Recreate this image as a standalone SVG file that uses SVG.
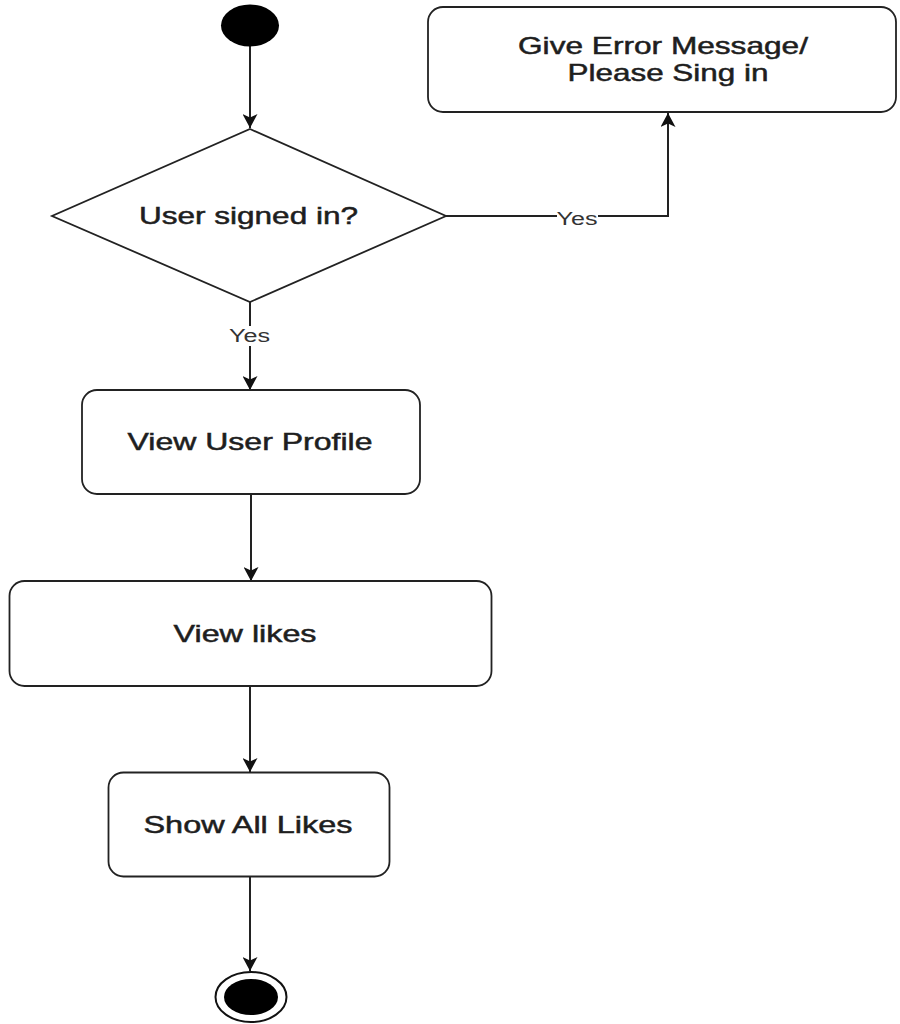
<svg xmlns="http://www.w3.org/2000/svg" width="900" height="1024" viewBox="0 0 900 1024">
<style>
.box{fill:#fff;stroke:#222;stroke-width:1.8}
.lbl{font-family:"Liberation Sans",Arial,sans-serif;font-size:24px;fill:#1e1e1e;text-anchor:middle;stroke:#1e1e1e;stroke-width:0.5}
.yes{font-family:"Liberation Sans",Arial,sans-serif;font-size:17.5px;fill:#333;text-anchor:middle}
.edge{fill:none;stroke:#222;stroke-width:2}
</style>
<defs>
<marker id="arr" markerUnits="userSpaceOnUse" markerWidth="15" markerHeight="15" refX="14" refY="7.5" orient="auto" viewBox="0 0 15 15">
<path d="M0,0 L14,7.5 L0,15 L3.5,7.5 Z" fill="#111"/>
</marker>
</defs>
<rect width="900" height="1024" fill="#fff"/>
<g id="edges">
<line class="edge" x1="250" y1="46" x2="250" y2="128" marker-end="url(#arr)"/>
<path class="edge" d="M446,216 H668 V113" marker-end="url(#arr)"/>
<line class="edge" x1="250" y1="302" x2="250" y2="390" marker-end="url(#arr)"/>
<line class="edge" x1="251" y1="494" x2="251" y2="581" marker-end="url(#arr)"/>
<line class="edge" x1="250" y1="686" x2="250" y2="772" marker-end="url(#arr)"/>
<line class="edge" x1="250" y1="877" x2="250" y2="971" marker-end="url(#arr)"/>
<g id="label-yes-right">
<rect x="557" y="212" width="41" height="16" fill="#fff"/>
<text class="yes" x="577" y="225" textLength="41" lengthAdjust="spacingAndGlyphs">Yes</text>
</g>
<g id="label-yes-down">
<rect x="229" y="326" width="42" height="20" fill="#fff"/>
<text class="yes" x="249.5" y="342" textLength="41" lengthAdjust="spacingAndGlyphs">Yes</text>
</g>
</g>
<g id="start">
<ellipse cx="250" cy="25.5" rx="29" ry="21" fill="#000"/>
</g>
<g id="error">
<rect class="box" x="428" y="7" width="468" height="105" rx="15"/>
<text class="lbl" x="663" y="54" textLength="290" lengthAdjust="spacingAndGlyphs">Give Error Message/</text>
<text class="lbl" x="668" y="81" textLength="201" lengthAdjust="spacingAndGlyphs">Please Sing in</text>
</g>
<g id="decision">
<polygon class="box" points="250,129 446,216 250,302 52,216"/>
<text class="lbl" x="248.5" y="224" textLength="219" lengthAdjust="spacingAndGlyphs">User signed in?</text>
</g>
<g id="viewProfile">
<rect class="box" x="82" y="390" width="338" height="104" rx="15"/>
<text class="lbl" x="250" y="450" textLength="245" lengthAdjust="spacingAndGlyphs">View User Profile</text>
</g>
<g id="viewLikes">
<rect class="box" x="9.5" y="581" width="482" height="105" rx="15"/>
<text class="lbl" x="245" y="642" textLength="143" lengthAdjust="spacingAndGlyphs">View likes</text>
</g>
<g id="showAll">
<rect class="box" x="108.5" y="772.5" width="281" height="104" rx="15"/>
<text class="lbl" x="248" y="833" textLength="209" lengthAdjust="spacingAndGlyphs">Show All Likes</text>
</g>
<g id="end">
<ellipse cx="251" cy="997" rx="35.5" ry="25" fill="#fff" stroke="#111" stroke-width="2"/>
<ellipse cx="251" cy="997" rx="27" ry="18" fill="#000"/>
</g>
</svg>
